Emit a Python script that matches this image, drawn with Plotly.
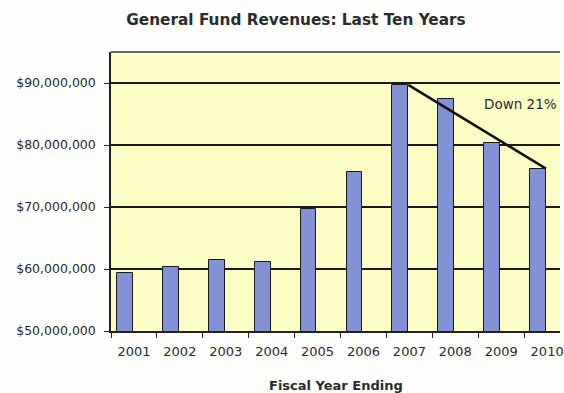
import plotly.graph_objects as go

# Fiscal years and general fund revenues (dollars)
years = ["2001", "2002", "2003", "2004", "2005", "2006", "2007", "2008", "2009", "2010"]
revenues = [59_300_000, 60_400_000, 61_400_000, 61_200_000, 69_600_000,
            75_600_000, 89_700_000, 87_500_000, 80_400_000, 76_200_000]
y_ticks = [50_000_000, 60_000_000, 70_000_000, 80_000_000, 90_000_000]
y_tick_text = ["$50,000,000", "$60,000,000", "$70,000,000", "$80,000,000", "$90,000,000"]
decline_label = "Down 21%"

BAR_OFFSET = -0.37
BAR_WIDTH = 0.345
FONT = "DejaVu Sans, Verdana, sans-serif"
TEXT = "#2b2b2b"

fig = go.Figure()
fig.add_trace(go.Bar(
    x=years, y=revenues,
    offset=BAR_OFFSET, width=BAR_WIDTH,
    marker=dict(color="#8292d4", line=dict(color="#1a1a1a", width=1)),
    hoverinfo="x+y",
))

# Trend line from the 2007 peak to 2010, anchored at the bars' top-right corners
i_peak, i_last = years.index("2007"), years.index("2010")
edge = BAR_OFFSET + BAR_WIDTH
fig.add_trace(go.Scatter(
    x=[i_peak + edge, i_last + edge],
    y=[revenues[i_peak], revenues[i_last]],
    mode="lines", line=dict(color="#111111", width=2.5),
    xaxis="x2", hoverinfo="skip", showlegend=False,
))

fig.add_annotation(
    x=8.42, y=86_600_000, xref="x2", yref="y",
    text=decline_label, showarrow=False,
    font=dict(family=FONT, size=13.5, color=TEXT),
)

# Top frame line of the plot area
fig.add_shape(type="line", xref="paper", yref="paper", x0=0, x1=1, y0=1, y1=1,
              line=dict(color="#333333", width=1.5))

fig.add_annotation(
    x=0.5, y=-0.194, xref="paper", yref="paper",
    text="<b>Fiscal Year Ending</b>", showarrow=False, yanchor="middle",
    font=dict(family=FONT, size=13, color=TEXT),
)

x_range = [-0.5, 9.28]
fig.update_layout(
    width=564, height=393,
    margin=dict(l=111, r=0, t=52, b=62),
    paper_bgcolor="#fdfdfb",
    plot_bgcolor="#fdfdc6",
    showlegend=False,
    bargap=0,
    title=dict(
        text="<b>General Fund Revenues: Last Ten Years</b>",
        x=296 / 564, xanchor="center", y=1 - 20 / 393, yanchor="middle",
        font=dict(family=FONT, size=15.3, color=TEXT),
    ),
    xaxis=dict(
        type="category", range=x_range,
        tickson="boundaries", ticks="outside", ticklen=5, tickcolor="#222222",
        showline=True, linecolor="#222222", linewidth=1.5,
        showgrid=False, ticklabelstandoff=8,
        tickfont=dict(family=FONT, size=13, color=TEXT),
    ),
    xaxis2=dict(
        overlaying="x", range=x_range, visible=False,
    ),
    yaxis=dict(
        range=[50_000_000, 95_000_000],
        tickvals=y_ticks, ticktext=y_tick_text,
        ticks="outside", ticklen=5, tickcolor="#222222",
        showline=True, linecolor="#222222", linewidth=1.5,
        showgrid=True, gridcolor="#1a1a1a", gridwidth=1.5,
        zeroline=False, ticklabelstandoff=6,
        tickfont=dict(family=FONT, size=12.5, color=TEXT),
    ),
)

fig.write_html("out.html")
